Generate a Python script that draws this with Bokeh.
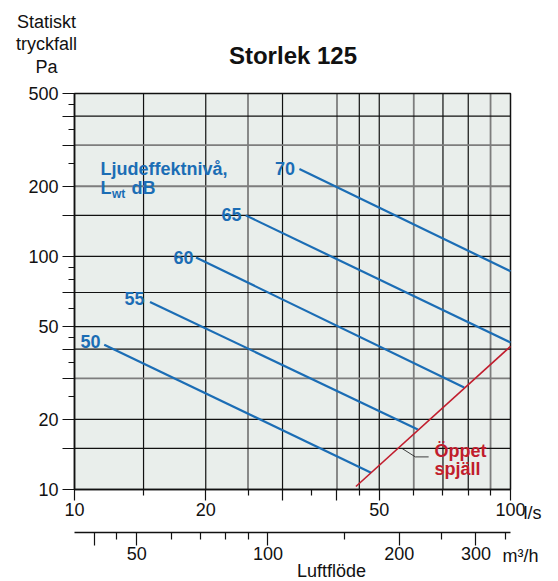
import math
from bokeh.plotting import figure
from bokeh.models import (Label, FixedTicker, LogAxis, Range1d, LogScale,
                          ColumnDataSource)
from bokeh.embed import file_html
from bokeh.resources import INLINE

# ---------------- data ----------------
levels = ["50", "55", "60", "65", "70"]          # Lwt dB
start_q = [11.7, 14.9, 19.0, 24.7, 32.8]          # l/s
start_p = [41.8, 63.8, 98.9, 150.0, 237.0]        # Pa
end_q = [47.9, 61.3, 78.3, 100.0, 100.0]          # l/s
end_p = [11.8, 18.1, 27.4, 42.7, 86.4]            # Pa

damper_q = [44.2, 100.0]                          # open damper (Öppet spjäll)
damper_p = [10.3, 41.1]

leader_q = [56.4, 60.5, 64.9]
leader_p = [15.0, 13.8, 13.8]

ls_labelled = [10, 20, 50, 100]
ls_long = [30, 40]
ls_minor = [14.4, 25, 35, 45, 60, 70, 80, 90]

m3h_labelled = [50, 100, 200, 300]
m3h_long = [40]
m3h_minor = [45, 60, 70, 80, 90, 150, 250, 350]

pa_labelled = [10, 20, 50, 100, 200, 500]
pa_long = [15, 30, 40, 70, 150, 300, 400]
pa_minor = [25, 35, 45, 60, 80, 90, 250, 350, 450]

vgrid_black = [14.4, 20, 30, 45, 50, 70, 80]
vgrid_gray = [25, 40, 60, 90]
hgrid_black = [15, 20, 40, 50, 70, 100, 150, 400]
hgrid_gray = [30, 200, 300]

LS_PER_M3H = 3.6  # 1 l/s = 3.6 m3/h

# ---------------- styling ----------------
FONT = "Liberation Sans"
BLUE = "#1b6db5"
RED = "#c11d2d"
BG = "#e9eeeb"
INK = "#111111"
GRAY = "#7d7d7d"

W, H = 558, 581
# pixel geometry of the chart box inside the canvas
CX0, CX1 = 74.0, 510.0      # 10 and 100 l/s
CY0, CY1 = 93.0, 489.0      # 500 and 10 Pa
QMIN, QMAX = ls_labelled[0], ls_labelled[-1]
PMIN, PMAX = pa_labelled[0], pa_labelled[-1]
DX = (CX1 - CX0) / math.log10(QMAX / QMIN)
DY = (CY1 - CY0) / math.log10(PMAX / PMIN)

x_start = QMIN * 10 ** (-CX0 / DX)
x_end = QMAX * 10 ** ((W - CX1) / DX)
y_end = PMAX * 10 ** (CY0 / DY)
y_start = PMIN * 10 ** (-(H - CY1) / DY)


def fx(px):   # canvas px -> l/s
    return QMIN * 10 ** ((px - CX0) / DX)


def fy(py):   # canvas px -> Pa
    return PMAX * 10 ** (-(py - CY0) / DY)


p = figure(width=W, height=H, x_axis_type="log", y_axis_type="log",
           x_range=Range1d(x_start, x_end), y_range=Range1d(y_start, y_end),
           output_backend="svg", toolbar_location=None, title=None,
           min_border=0)
p.background_fill_color = "white"
p.border_fill_color = "white"
p.outline_line_color = None
p.grid.visible = False

# chart area
p.quad(left=[QMIN], right=[QMAX], bottom=[PMIN], top=[PMAX],
       fill_color=BG, line_color=None)

# grid lines
for xs, col, wid in [(vgrid_gray, GRAY, 1.8), (vgrid_black, INK, 1.2)]:
    p.segment(x0=xs, y0=[PMIN] * len(xs), x1=xs, y1=[PMAX] * len(xs),
              line_color=col, line_width=wid)
for ys, col, wid in [(hgrid_gray, GRAY, 1.8), (hgrid_black, INK, 1.2)]:
    p.segment(x0=[QMIN] * len(ys), y0=ys, x1=[QMAX] * len(ys), y1=ys,
              line_color=col, line_width=wid)

# chart border
p.quad(left=[QMIN], right=[QMAX], bottom=[PMIN], top=[PMAX],
       fill_color=None, line_color=INK, line_width=1.5)


def style_axis(ax, labelled, long_unl, minor, tick_out, minor_out, standoff):
    ax.ticker = FixedTicker(ticks=sorted(labelled + long_unl), minor_ticks=minor)
    ov = {t: str(t) for t in labelled}
    ov.update({t: "" for t in long_unl})
    ax.major_label_overrides = ov
    ax.major_tick_out = tick_out
    ax.major_tick_in = 0
    ax.minor_tick_out = minor_out
    ax.minor_tick_in = 0
    ax.major_tick_line_color = INK
    ax.minor_tick_line_color = INK
    ax.major_tick_line_width = 1.2
    ax.minor_tick_line_width = 1.2
    ax.axis_line_color = INK
    ax.axis_line_width = 1.5
    ax.major_label_standoff = standoff
    ax.major_label_text_font = FONT
    ax.major_label_text_font_size = "18px"
    ax.major_label_text_color = INK


# main x axis (l/s)
xa = p.xaxis[0]
style_axis(xa, ls_labelled, ls_long, ls_minor, 11, 6, 2)
xa.fixed_location = PMIN
xa.bounds = (QMIN, QMAX)

# y axis (Pa)
ya = p.yaxis[0]
style_axis(ya, pa_labelled, pa_long, pa_minor, 12, 6, 4)
ya.fixed_location = QMIN
ya.bounds = (PMIN, PMAX)

# second x axis (m3/h)
p.extra_x_ranges = {"m3h": Range1d(x_start * LS_PER_M3H, x_end * LS_PER_M3H)}
p.extra_x_scales = {"m3h": LogScale()}
xa2 = LogAxis(x_range_name="m3h")
style_axis(xa2, m3h_labelled, m3h_long, m3h_minor, 13, 7, 2)
xa2.fixed_location = fy(531.7)
xa2.bounds = (QMIN * LS_PER_M3H, QMAX * LS_PER_M3H)
p.add_layout(xa2, "below")

# ---------------- data lines ----------------
src = ColumnDataSource(dict(x0=start_q, y0=start_p, x1=end_q, y1=end_p, lev=levels))
p.segment(x0="x0", y0="y0", x1="x1", y1="y1", source=src,
          line_color=BLUE, line_width=2.2)
p.line(damper_q, damper_p, line_color=RED, line_width=1.6)
p.line(leader_q, leader_p, line_color=INK, line_width=0.8)

# ---------------- texts ----------------
bg_labels, text_labels = [], []


def lab(px, py, text, size, color, bold=False, align="left", bg=None, pad=0,
        is_baseline=True):
    # py is the text baseline (or its middle when is_baseline=False)
    ym = py - 0.35 * size if is_baseline else py
    kw = dict(x=fx(px), y=fy(ym), text=text, text_font=FONT,
              text_font_size=f"{size}px", text_color=color,
              text_font_style="bold" if bold else "normal",
              text_align=align, text_baseline="middle")
    if bg is not None:
        bg_labels.append(Label(**kw, text_alpha=0.0,
                               background_fill_color=bg, padding=pad))
    text_labels.append(Label(**kw))


# level numbers
for txt, (cx, cy) in zip(levels, [(90, 341), (134, 298), (183, 257),
                                   (231, 214), (284.5, 168)]):
    lab(cx, cy, txt, 18, BLUE, bold=True, align="center", bg=BG, pad=3,
        is_baseline=False)

# legend title
lab(100, 174.3, "Ljudeffektnivå,", 18, BLUE, bold=True, bg=BG, pad=4)
lab(100, 193.3, "L", 18, BLUE, bold=True, bg=BG, pad=4)
lab(131, 193.3, "dB", 18, BLUE, bold=True, bg=BG, pad=4)
lab(111.5, 197.5, "wt", 12, BLUE, bold=True)

# open damper label
lab(434, 456.7, "Öppet", 18, RED, bold=True, bg=BG, pad=5)
lab(434, 474.5, "spjäll", 18, RED, bold=True, bg=BG, pad=5)

# chart title
lab(292.5, 63.3, "Storlek 125", 24, INK, bold=True, align="center")

# y title
for txt, by in [("Statiskt", 27.3), ("tryckfall", 50.0), ("Pa", 72.7)]:
    lab(46, by, txt, 18, INK, align="center")

# units
lab(523, 518.3, "l/s", 18, INK)
lab(502, 561.5, "m³/h", 18, INK)
lab(331, 577, "Luftflöde", 18, INK, align="center")

for l in bg_labels + text_labels:
    p.add_layout(l)

open("out.html", "w").write(file_html(p, INLINE))
